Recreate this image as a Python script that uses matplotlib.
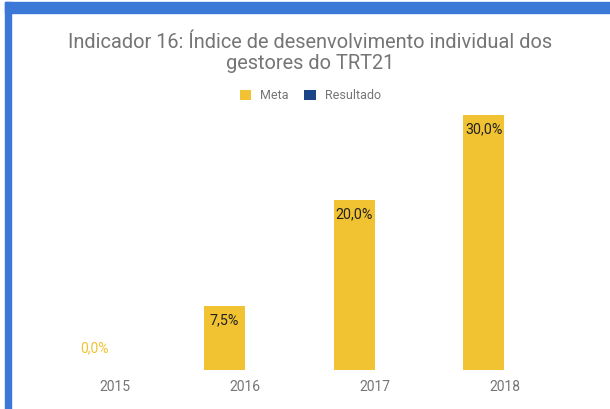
import matplotlib as mpl
mpl.use('Agg')
import matplotlib.pyplot as plt
from matplotlib.patches import Patch, Rectangle

mpl.rcParams['font.family'] = ['Roboto', 'DejaVu Sans']

# chart data
years = ['2015', '2016', '2017', '2018']
meta = [0.0, 7.5, 20.0, 30.0]
meta_labels = ['0,0%', '7,5%', '20,0%', '30,0%']
title = 'Indicador 16: Índice de desenvolvimento individual dos\ngestores do TRT21'

yellow = '#f1c232'
navy = '#1c4587'
border = '#3c78d8'
grey = '#757575'

W, H = 610, 409
fig = plt.figure(figsize=(W / 100, H / 100), dpi=100)

# blue frame on top and left
fig.patches.append(Rectangle((5 / W, 1 - 13.3 / H), 1, 11.6 / H,
                             transform=fig.transFigure, color=border, zorder=0))
fig.patches.append(Rectangle((5 / W, 0), 6 / W, 1 - 1.7 / H,
                             transform=fig.transFigure, color=border, zorder=0))

# axes placed so the bars land where they do in the picture
left, right, bottom, top = 50.5, 569.3, 370, 115
ax = fig.add_axes([left / W, 1 - bottom / H, (right - left) / W, (bottom - top) / H])

w = 0.316
x = list(range(len(years)))
xm = [i - w / 2 for i in x]
ax.bar(xm, meta, width=w, color=yellow, edgecolor='none')

for xi, v, lab in zip(xm, meta, meta_labels):
    if v == 0:
        ax.annotate(lab, (xi, v), xytext=(0, 22), textcoords='offset pixels',
                    ha='center', va='center', fontsize=10, color=yellow)
    else:
        ax.annotate(lab, (xi, v), xytext=(0, -14), textcoords='offset pixels',
                    ha='center', va='center', fontsize=10.3, color='#222222')

ax.set_xlim(-0.5, 3.5)
ax.set_ylim(0, 30)
ax.set_xticks(x)
ax.set_xticklabels(years)
ax.set_yticks([])
ax.tick_params(axis='x', length=0, pad=7, labelsize=10, labelcolor=grey)
for s in ax.spines.values():
    s.set_visible(False)

fig.text(310 / W, 1 - 53 / H, title, ha='center', va='center',
         fontsize=14.4, color=grey, linespacing=1.08)

handles = [Patch(facecolor=yellow, edgecolor='none', label='Meta'),
           Patch(facecolor=navy, edgecolor='none', label='Resultado')]
fig.legend(handles=handles, loc='center', bbox_to_anchor=(310 / W, 1 - 95.7 / H),
           ncol=2, frameon=False, fontsize=9, labelcolor=grey,
           handlelength=0.95, handleheight=0.95, handletextpad=0.67,
           columnspacing=1.28)

fig.savefig('out.png', dpi=100)
